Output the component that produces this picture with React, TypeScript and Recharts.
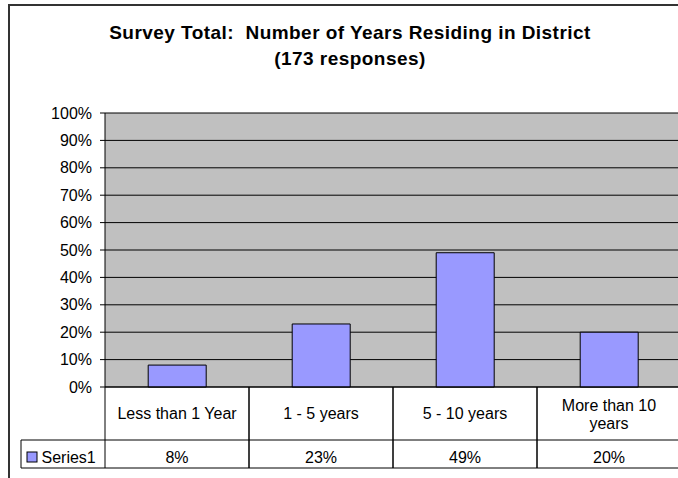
import React from "react";
import { BarChart, Bar, XAxis, YAxis, CartesianGrid } from "recharts";

const categories = ["Less than 1 Year", "1 - 5 years", "5 - 10 years", "More than 10 years"];
const categoryLines = [["Less than 1 Year"], ["1 - 5 years"], ["5 - 10 years"], ["More than 10", "years"]];
const series1 = [8, 23, 49, 20];
const yTicks = [0, 10, 20, 30, 40, 50, 60, 70, 80, 90, 100];
const seriesName = "Series1";
const titleLines = ["Survey Total:  Number of Years Residing in District", "(173 responses)"];

const data = categories.map((c, i) => ({ name: c, value: series1[i] }));

const FONT = "'Liberation Sans', Arial, sans-serif";
const CHART_W = 690;
const CHART_H = 490;
const M_TOP = 113;
const M_LEFT = 45;
const Y_AXIS_W = 60;
const M_RIGHT = 9;
const X_AXIS_H = 81;
const M_BOTTOM = CHART_H - 387 - X_AXIS_H;
const BAND = (CHART_W - M_LEFT - Y_AXIS_W - M_RIGHT) / categories.length;
const ROW1 = 53;

const TableTick = (props: any) => {
  const { x, y, index } = props;
  const half = BAND / 2;
  const lines = categoryLines[index] || [];
  const left = x - half;
  const right = x + half;
  const stroke = "#000";
  const valueText = `${series1[index]}%`;
  const lineY = lines.length === 1 ? [y + 32] : [y + 24, y + 42];
  return (
    <g>
      <line x1={right} x2={right} y1={y} y2={y + X_AXIS_H} stroke={stroke} />
      <line x1={left} x2={left} y1={y} y2={y + X_AXIS_H} stroke={stroke} />
      <line x1={left} x2={right} y1={y + ROW1} y2={y + ROW1} stroke={stroke} />
      <line x1={left} x2={right} y1={y + X_AXIS_H} y2={y + X_AXIS_H} stroke={stroke} />
      {lines.map((t, k) => (
        <text key={k} x={x} y={lineY[k]} textAnchor="middle" fontSize={16} fontFamily={FONT} fill="#000">
          {t}
        </text>
      ))}
      <text x={x} y={y + 76} textAnchor="middle" fontSize={16} fontFamily={FONT} fill="#000">
        {valueText}
      </text>
      {index === 0 && (
        <g>
          <line x1={left - 84} x2={left} y1={y + ROW1} y2={y + ROW1} stroke={stroke} />
          <line x1={left - 84} x2={left} y1={y + X_AXIS_H} y2={y + X_AXIS_H} stroke={stroke} />
          <line x1={left - 84} x2={left - 84} y1={y + ROW1} y2={y + X_AXIS_H} stroke={stroke} />
          <rect x={left - 78} y={y + 65} width={10} height={10} fill="#9999FF" stroke="#000" />
          <text x={left - 63.5} y={y + 76} fontSize={16} fontFamily={FONT} fill="#000">
            {seriesName}
          </text>
        </g>
      )}
    </g>
  );
};

export default function App() {
  return (
    <div style={{ position: "absolute", left: 0, top: 0, width: 678, height: 478, overflow: "hidden", background: "#fff" }}>
      <div
        style={{
          position: "absolute",
          left: 8,
          top: 4,
          width: 700,
          height: 500,
          border: "2px solid #333",
          boxSizing: "border-box",
        }}
      />
      <div
        style={{
          position: "absolute",
          left: 0,
          top: 20.4,
          width: 700,
          textAlign: "center",
          fontFamily: FONT,
          fontWeight: "bold",
          fontSize: 19,
          letterSpacing: "0.45px",
          lineHeight: "26px",
          whiteSpace: "pre",
          color: "#000",
        }}
      >
        {titleLines.map((t, i) => (
          <div key={i}>{t}</div>
        ))}
      </div>
      <div style={{ position: "absolute", left: 0, top: 0 }}>
        <BarChart
          width={CHART_W}
          height={CHART_H}
          data={data}
          margin={{ top: M_TOP, left: M_LEFT, right: M_RIGHT, bottom: M_BOTTOM }}
          barCategoryGap="30%"
        >
          <CartesianGrid vertical={false} stroke="#000" fill="#C0C0C0" fillOpacity={1} />
          <XAxis
            dataKey="name"
            height={X_AXIS_H}
            axisLine={{ stroke: "#000" }}
            tickLine={false}
            tickSize={0}
            tickMargin={0}
            interval={0}
            tick={<TableTick />}
          />
          <YAxis
            width={Y_AXIS_W}
            domain={[0, 100]}
            ticks={yTicks}
            tickFormatter={(v: number) => `${v}%`}
            axisLine={{ stroke: "#000" }}
            tickLine={{ stroke: "#000" }}
            tickSize={5}
            tickMargin={8}
            tick={{ fill: "#000", fontSize: 16, fontFamily: FONT }}
            interval={0}
          />
          <Bar dataKey="value" fill="#9999FF" stroke="#000" strokeWidth={1} isAnimationActive={false} />
        </BarChart>
      </div>
    </div>
  );
}
